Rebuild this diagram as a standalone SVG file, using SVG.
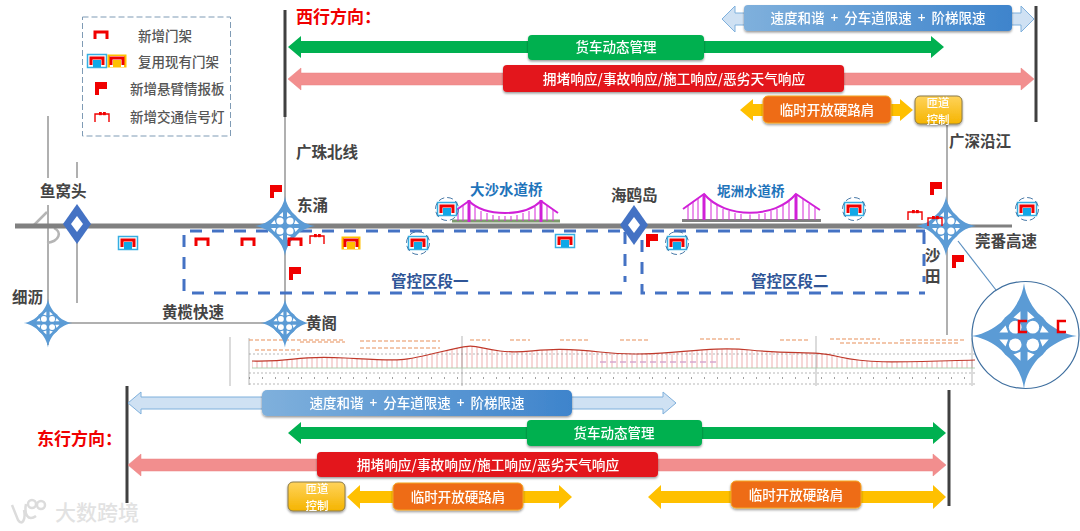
<svg xmlns="http://www.w3.org/2000/svg" xmlns:xlink="http://www.w3.org/1999/xlink" width="1080" height="531" viewBox="0 0 1080 531">
<style>
text{font-family:"Noto Sans CJK SC","Noto Sans",sans-serif}
.lb{font-size:15.500px;font-weight:700;fill:#444}
.lg{font-size:13.500px;font-weight:500;fill:#555}
.dir{font-size:17px;font-weight:700;fill:#f00000}
.sec{font-size:15.500px;font-weight:700;fill:#2f5597}
.br{font-weight:700;fill:#1f74bb}
.bt{font-size:13.500px;font-weight:500;fill:#fff;text-anchor:middle}
.wd{word-spacing:3px}
.rp{font-size:11.500px}
.lw{font-size:13.700px}
.ax{stroke:#404040;stroke-width:3;fill:none}
.rd{stroke:#b0b0b0;stroke-width:2;fill:none}
.dash{stroke:#4472c4;stroke-width:3;stroke-dasharray:12 10;fill:none}
.hg{stroke:#d528d8;stroke-width:1;fill:none}
.cb{stroke:#d020d8;stroke-width:2;fill:none}
.tw{stroke:#d020d8;stroke-width:3;fill:none}
.g{fill:#00b050}.r{fill:#f28e8e;stroke:#ea8080;stroke-width:.5}.b{fill:#cfe1f3;stroke:#7fb0dc;stroke-width:1}.y{fill:#ffc000}
.pf{stroke:#888;stroke-width:.6;fill:none}
.pr{stroke:#e8905a;stroke-width:1.200;stroke-dasharray:4 2;fill:none}
</style>
<defs>
<filter id="sh" x="-10%" y="-20%" width="120%" height="150%"><feDropShadow dx="0" dy="1.5" stdDeviation="1.2" flood-color="#000" flood-opacity=".4"/></filter>
<linearGradient id="bg" x1="0" x2="1" y1="0" y2="0"><stop offset="0" stop-color="#7fb0dc"/><stop offset="1" stop-color="#3e84cc"/></linearGradient>
<linearGradient id="yg" x1="0" x2="0" y1="0" y2="1"><stop offset="0" stop-color="#ffd35a"/><stop offset="1" stop-color="#f5b400"/></linearGradient>
<pattern id="hatch" width="5" height="10" patternUnits="userSpaceOnUse"><path d="M2,0V10" stroke="#eeb0b0" stroke-width="1"/></pattern>
<path id="arch" d="M-6,4V-3H6V4" fill="none" stroke="#f00000" stroke-width="3"/>
<g id="gb"><rect x="-9.500" y="-6.500" width="19" height="13" fill="#ffffff" stroke="#35aee2" stroke-width="1.500"/><rect x="-4" y="-1" width="8" height="7" fill="#10a8e8"/><use xlink:href="#arch"/></g>
<g id="gy"><rect x="-9.500" y="-6.500" width="19" height="13" fill="#ffc000"/><rect x="-7" y="-5" width="14" height="11" fill="#fff"/><rect x="-4" y="-1" width="8" height="7" fill="#ffc000"/><use xlink:href="#arch"/></g>
<g id="gc"><use xlink:href="#gb"/><circle r="11.500" fill="none" stroke="#4a7aa8" stroke-width="1" stroke-dasharray="6 3"/></g>
<path id="fl" d="M-6,-7H6V0H-2V6H-6Z" fill="#f00000"/>
<g id="sg"><path d="M-7,5V-3H7V5" fill="none" stroke="#f00000" stroke-width="1.400"/><rect x="-3" y="-5" width="2.800" height="3.200" fill="#f00000"/><rect x="1" y="-5" width="2.800" height="3.200" fill="#f00000"/></g>
<g id="ix"><circle r="15" fill="#5b9bd5"/><path fill="#5b9bd5" d="M0,-30C1.500,-16 16,-1.500 30,0C16,1.500 1.500,16 0,30C-1.500,16 -16,1.500 -30,0C-16,-1.500 -1.500,-16 0,-30Z"/><g fill="#fff"><circle cx="-5" cy="-5" r="3.600"/><circle cx="5" cy="-5" r="3.600"/><circle cx="-5" cy="5" r="3.600"/><circle cx="5" cy="5" r="3.600"/><path d="M-14,-2L-9,-2L-10.500,-6Z M14,-2L9,-2L10.500,-6Z M-14,2L-9,2L-10.500,6Z M14,2L9,2L10.500,6Z M-2,-14L-2,-9L-6,-10.500Z M2,-14L2,-9L6,-10.500Z M-2,14L-2,9L-6,10.500Z M2,14L2,9L6,10.500Z"/></g></g>
<g id="dm"><path d="M0,-20L14,0L0,20L-14,0Z" fill="#4472c4"/><path d="M0,-8L6,0L0,8L-6,0Z" fill="#fff"/></g>
</defs>
<rect width="1080" height="531" fill="#fff"/>

<g id="legend">
<rect x="82.500" y="17" width="148" height="119" fill="none" stroke="#7f9bb5" stroke-dasharray="6 3"/>
<use xlink:href="#arch" x="101" y="35"/><text class="lg" x="138" y="41">新增门架</text>
<use xlink:href="#gb" x="97" y="61"/><use xlink:href="#gy" x="117" y="61"/><text class="lg" x="138" y="67">复用现有门架</text>
<use xlink:href="#fl" x="101" y="89"/><text class="lg" x="130" y="94">新增悬臂情报板</text>
<use xlink:href="#sg" x="102" y="117"/><text class="lg" x="130" y="122">新增交通信号灯</text>
</g>

<g id="profile">
<path d="M252,361C300,362 290,355 345,358S400,362 440,352S470,347 500,351S540,345 600,352S700,345 750,350S810,350 840,357S900,362 975,360V368H252Z" fill="url(#hatch)"/>
<path class="pf" d="M230,337V386M249,338V385M462,336V386M816,336V386M972,338V386"/>
<path class="pf" d="M249,354H975M249,373H975M249,384H975" stroke-dasharray="2 2"/>
<path d="M249,378H975" stroke="#444" stroke-width="1" stroke-dasharray="1 12"/>
<path d="M249,340H345M300,342H345M360,341H440M470,340H490M510,340H530M560,340H590M620,340H650M700,339H740M780,340H810M830,339H880M900,340H965M255,350H300M360,348H440M840,343H960" class="pr"/>
<path d="M252,361C300,362 290,355 345,358S400,362 440,352S470,347 500,351S540,345 600,352S700,345 750,350S810,350 840,357S900,362 975,360" fill="none" stroke="#c0392b" stroke-width="1.200"/>
<path d="M252,368H975" stroke="#9fc59f" stroke-width=".8"/>
<path d="M600,362H720" stroke="#d8a8d0" stroke-width="1.500" stroke-dasharray="6 4"/>
</g>

<g id="connectors">
<path class="rd" d="M285,117V330M947,124V335M48,116V178M48,205V345M77,162V178M77,240V303M48,323H285"/>
<path d="M33,226L47,212M54,228C62,232 60,241 47,243" fill="none" stroke="#b5b5b5" stroke-width="2.500"/>
<path d="M15,226H945" stroke="#808080" stroke-width="5"/>
<path d="M945,226H1012" stroke="#808080" stroke-width="3"/>
<path class="ax" d="M285,10V117M1036,6V122M127,386V503M949,390V506"/>
<path d="M958,241L996,290" stroke="#5b8fc0" stroke-width="1.200"/>
<polygon class="b" points="722,19 735,6 735,13 1021,13 1021,6 1034,19 1021,32 1021,25 735,25 735,32"/>
<polygon class="g" points="288,47 301,36 301,41 931,41 931,36 944,47 931,58 931,53 301,53 301,58"/>
<polygon class="r" points="288,79 301,68 301,73 1021,73 1021,68 1034,79 1021,90 1021,85 301,85 301,90"/>
<polygon class="y" points="740,110 753,99 753,104 900,104 900,99 913,110 900,121 900,116 753,116 753,121"/>
<polygon class="b" points="128,403 141,392 141,397 663,397 663,392 676,403 663,414 663,409 141,409 141,414"/>
<polygon class="g" points="288,433 301,422 301,427 933,427 933,422 946,433 933,444 933,439 301,439 301,444"/>
<polygon class="r" points="128,465 141,454 141,459 933,459 933,454 946,465 933,476 933,471 141,471 141,476"/>
<polygon class="y" points="347,497 360,485 360,491 559,491 559,485 572,497 559,509 559,503 360,503 360,509"/>
<polygon class="y" points="648,497 661,485 661,491 933,491 933,485 946,497 933,509 933,503 661,503 661,509"/>
<path class="dash" d="M190,231H925"/>
<path class="dash" d="M184,235V293H628M625,232V282"/>
<path class="dash" d="M642,240V293H925M924,232V282"/>
</g>

<g id="bridge-dasha">
<path d="M452,221H560" stroke="#7e9a6e" stroke-width="3"/>
<path class="tw" d="M469,200V222M541,200V222"/>
<path class="cb" d="M452,213L469,201C485,217 525,217 541,201L558,213"/>
<path class="hg" d="M458,210V221M463,206V221M475,207V221M481,211V221M487,213V221M493,215V221M499,216V221M505,216V221M511,216V221M517,215V221M523,213V221M529,211V221M535,207V221M547,206V221M553,210V221"/>
<text class="br" font-size="14.500" x="470" y="195">大沙水道桥</text>
</g>
<g id="bridge-nizhou">
<path d="M682,220.500H821" stroke="#808080" stroke-width="3"/>
<path class="tw" d="M704,194V220M796,194V220"/>
<path class="cb" d="M683,209L704,194C725,219 775,219 796,194L820,210"/>
<path class="hg" d="M688,206V220M693,202V220M698,198V220M711,200V220M717,205V220M723,209V220M729,211V220M735,213V220M741,214V220M750,214.500V220M759,214V220M765,213V220M771,211V220M777,209V220M783,205V220M789,200V220M803,199V220M809,204V220M815,207V220"/>
<text class="br" font-size="13.500" x="717" y="196">坭洲水道桥</text>
</g>

<g id="n-yuwotou"><use xlink:href="#dm" x="77" y="224"/><text class="lb" x="40" y="197">鱼窝头</text></g>
<g id="n-haiou"><use xlink:href="#dm" x="634" y="225"/><text class="lb" x="611" y="201">海鸥岛</text></g>
<g id="n-dongchong"><use xlink:href="#ix" transform="translate(285,226)"/><text class="lb" x="297" y="211">东涌</text></g>
<g id="n-xili"><use xlink:href="#ix" transform="translate(48,323) scale(.82)"/><text class="lb" x="12" y="303">细沥</text></g>
<g id="n-huangge"><use xlink:href="#ix" transform="translate(285,323) scale(.82)"/><text class="lb" x="306" y="329">黄阁</text></g>
<g id="n-shatian"><use xlink:href="#ix" transform="translate(946,226)"/><text class="lb" x="925" y="261">沙</text><text class="lb" x="925" y="282">田</text></g>
<g id="n-zoom">
<circle cx="1025.500" cy="335" r="53.500" fill="#fff" stroke="#3f6f9f" stroke-width="1.200"/>
<use xlink:href="#ix" transform="translate(1024,336) scale(1.760)"/>
<path d="M1027,321H1019V332H1027M1066,321H1058V332H1066" fill="none" stroke="#f00000" stroke-width="2.500"/>
</g>

<g id="gantries">
<use xlink:href="#arch" x="202" y="242"/><use xlink:href="#arch" x="248" y="242"/><use xlink:href="#arch" x="295" y="242"/>
<use xlink:href="#sg" x="317" y="239"/><use xlink:href="#sg" x="915" y="215"/><use xlink:href="#sg" x="935" y="221"/>
<use xlink:href="#gb" x="128" y="243"/><use xlink:href="#gy" x="351" y="243"/><use xlink:href="#gb" x="565" y="241"/>
<use xlink:href="#gc" x="418" y="243"/><use xlink:href="#gc" x="677" y="243"/><use xlink:href="#gc" x="447" y="209"/><use xlink:href="#gc" x="854" y="209"/><use xlink:href="#gc" x="1027" y="209"/>
<use xlink:href="#fl" x="276" y="192"/><use xlink:href="#fl" x="295" y="274"/><use xlink:href="#fl" x="652" y="241"/><use xlink:href="#fl" x="936" y="189"/><use xlink:href="#fl" x="958" y="262"/>
</g>

<g id="labels">
<text class="dir" x="296" y="23">西行方向：</text>
<text class="dir" x="37" y="445">东行方向：</text>
<text class="lb" x="296" y="158">广珠北线</text>
<text class="lb" x="949" y="147">广深沿江</text>
<text class="lb" x="975" y="247">莞番高速</text>
<text class="lb" x="162" y="318">黄榄快速</text>
<text class="sec" x="391" y="287">管控区段一</text>
<text class="sec" x="751" y="287">管控区段二</text>
</g>

<g id="b1" filter="url(#sh)"><rect x="744" y="5" width="268" height="26" rx="4" fill="url(#bg)"/><text class="bt wd" x="878" y="23">速度和谐 + 分车道限速 + 阶梯限速</text></g>
<g id="b2" filter="url(#sh)"><rect x="528" y="35" width="176" height="25" rx="4" fill="#00b050"/><text class="bt" x="616" y="52">货车动态管理</text></g>
<g id="b3" filter="url(#sh)"><rect x="503" y="65" width="341" height="27" rx="4" fill="#e3191c"/><text class="bt lw" x="674" y="84">拥堵响应/事故响应/施工响应/恶劣天气响应</text></g>
<g id="b4" filter="url(#sh)"><rect x="763" y="96" width="128" height="27" rx="5" fill="#ee6c12" stroke="#f5a623"/><text class="bt" x="827" y="115">临时开放硬路肩</text></g>
<g id="b5" filter="url(#sh)"><rect x="915" y="96" width="47" height="28" rx="5" fill="url(#yg)" stroke="#8a7a4a"/><text class="bt rp" x="938" y="106.500">匝道</text><text class="bt rp" x="938" y="123.500">控制</text></g>
<g id="b6" filter="url(#sh)"><rect x="262" y="390" width="310" height="26" rx="5" fill="url(#bg)"/><text class="bt wd" x="417" y="408">速度和谐 + 分车道限速 + 阶梯限速</text></g>
<g id="b7" filter="url(#sh)"><rect x="527" y="420" width="175" height="26" rx="4" fill="#00b050"/><text class="bt" x="614" y="438">货车动态管理</text></g>
<g id="b8" filter="url(#sh)"><rect x="317" y="452" width="341" height="25" rx="4" fill="#e3191c"/><text class="bt lw" x="488" y="470">拥堵响应/事故响应/施工响应/恶劣天气响应</text></g>
<g id="b9" filter="url(#sh)"><rect x="288" y="482" width="57" height="29" rx="5" fill="url(#yg)" stroke="#8a7a4a"/><text class="bt rp" x="317" y="493">匝道</text><text class="bt rp" x="317" y="510">控制</text></g>
<g id="b10" filter="url(#sh)"><rect x="393" y="483" width="130" height="27" rx="5" fill="#ee6c12" stroke="#f5a623"/><text class="bt" x="458" y="502">临时开放硬路肩</text></g>
<g id="b11" filter="url(#sh)"><rect x="731" y="481" width="130" height="27" rx="5" fill="#ee6c12" stroke="#f5a623"/><text class="bt" x="796" y="500">临时开放硬路肩</text></g>

<g id="watermark" fill="none" stroke="#dcdcdc" stroke-width="2.500">
<path d="M12,505L18,520C22,526 26,520 24,510M26,504C24,514 28,522 36,516"/>
<circle cx="32" cy="504" r="4"/><circle cx="41" cy="505" r="4"/>
<text x="55" y="520" font-size="21" font-weight="500" fill="#e2e2e2" stroke="none">大数跨境</text>
</g>
</svg>
